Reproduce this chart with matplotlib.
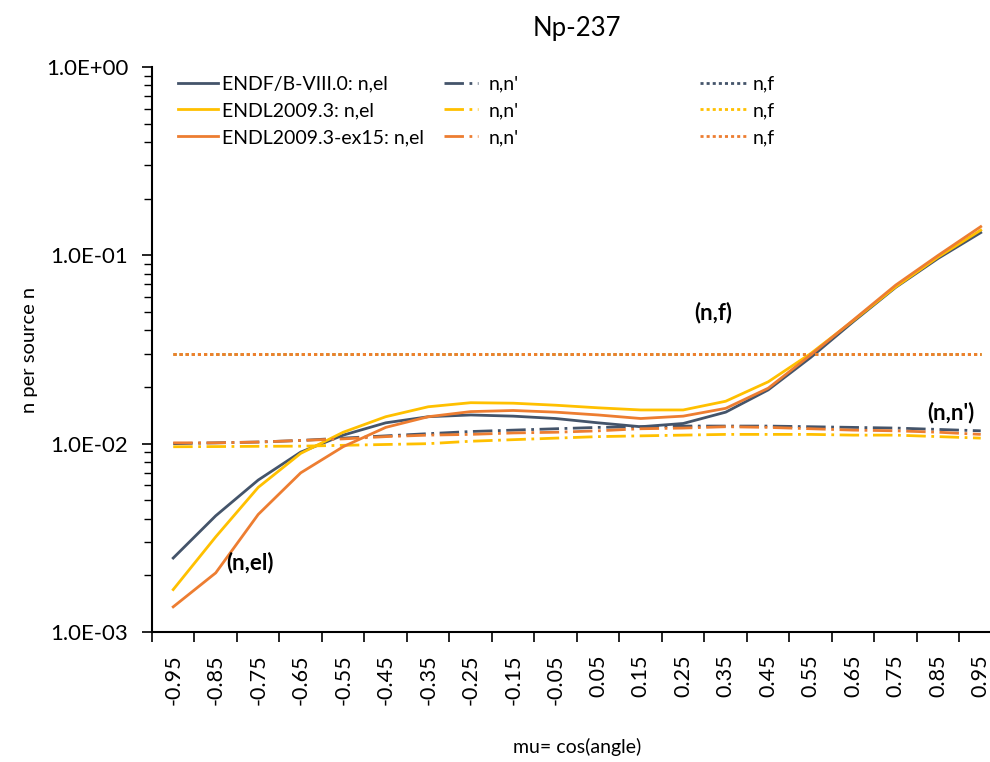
import matplotlib
matplotlib.use("Agg")
import matplotlib.pyplot as plt
from matplotlib.ticker import LogLocator, NullFormatter, FixedLocator
import numpy as np

plt.rcParams['font.family'] = ['Lato', 'DejaVu Sans']

# category axis: mu = cos(angle)
mu_labels = ["-0.95", "-0.85", "-0.75", "-0.65", "-0.55", "-0.45", "-0.35", "-0.25",
             "-0.15", "-0.05", "0.05", "0.15", "0.25", "0.35", "0.45", "0.55",
             "0.65", "0.75", "0.85", "0.95"]

# elastic
endf_el = [2.47e-3, 4.14e-3, 6.41e-3, 9.02e-3, 1.11e-2, 1.29e-2, 1.39e-2, 1.42e-2,
           1.40e-2, 1.36e-2, 1.29e-2, 1.23e-2, 1.28e-2, 1.47e-2, 1.93e-2, 2.87e-2,
           4.44e-2, 6.76e-2, 9.64e-2, 0.132]
endl_el = [1.68e-3, 3.2e-3, 5.86e-3, 8.88e-3, 1.15e-2, 1.39e-2, 1.57e-2, 1.65e-2,
           1.64e-2, 1.60e-2, 1.55e-2, 1.51e-2, 1.51e-2, 1.68e-2, 2.13e-2, 3.01e-2,
           4.5e-2, 6.8e-2, 9.8e-2, 0.136]
ex15_el = [1.36e-3, 2.06e-3, 4.21e-3, 7.0e-3, 9.64e-3, 1.22e-2, 1.39e-2, 1.48e-2,
           1.50e-2, 1.47e-2, 1.42e-2, 1.36e-2, 1.40e-2, 1.54e-2, 1.97e-2, 2.96e-2,
           4.53e-2, 6.95e-2, 0.100, 0.142]

# inelastic
endf_inl = [1.00e-2, 1.01e-2, 1.02e-2, 1.04e-2, 1.07e-2, 1.10e-2, 1.13e-2, 1.16e-2,
            1.18e-2, 1.20e-2, 1.22e-2, 1.23e-2, 1.24e-2, 1.24e-2, 1.24e-2, 1.23e-2,
            1.22e-2, 1.21e-2, 1.19e-2, 1.17e-2]
endl_inl = [9.63e-3, 9.65e-3, 9.68e-3, 9.7e-3, 9.8e-3, 9.9e-3, 1.00e-2, 1.03e-2,
            1.05e-2, 1.07e-2, 1.09e-2, 1.10e-2, 1.11e-2, 1.12e-2, 1.12e-2, 1.12e-2,
            1.11e-2, 1.11e-2, 1.09e-2, 1.07e-2]
ex15_inl = [1.01e-2, 1.01e-2, 1.02e-2, 1.04e-2, 1.06e-2, 1.09e-2, 1.11e-2, 1.12e-2,
            1.14e-2, 1.15e-2, 1.17e-2, 1.20e-2, 1.21e-2, 1.23e-2, 1.22e-2, 1.20e-2,
            1.18e-2, 1.17e-2, 1.15e-2, 1.12e-2]

# fission
endf_f = [2.98e-2] * 20
endl_f = [2.98e-2] * 20
ex15_f = [2.98e-2] * 20

c_endf = '#44546A'
c_endl = '#FFC000'
c_ex15 = '#ED7D31'

fig = plt.figure(figsize=(9.9, 7.62), dpi=100)
ax = fig.add_axes([0.1535, 0.1706, 0.8586, 0.7415])

x = np.arange(len(mu_labels))
lw = 2.0
dashdot = (7, 2, 1, 2)
dot = (1.1, 1.1)

h_el = []
h_inl = []
h_f = []
for col, el, inl, fi, name in [(c_endf, endf_el, endf_inl, endf_f, "ENDF/B-VIII.0: n,el"),
                               (c_endl, endl_el, endl_inl, endl_f, "ENDL2009.3: n,el"),
                               (c_ex15, ex15_el, ex15_inl, ex15_f, "ENDL2009.3-ex15: n,el")]:
    l1, = ax.plot(x, el, color=col, lw=lw, label=name)
    l2, = ax.plot(x, inl, color=col, lw=lw, dashes=dashdot, label="n,n'")
    l3, = ax.plot(x, fi, color=col, lw=lw, dashes=dot, dash_capstyle='butt', label="n,f")
    h_el.append(l1)
    h_inl.append(l2)
    h_f.append(l3)

ax.set_yscale('log')
ax.set_ylim(1e-3, 1e0)
ax.set_xlim(-0.5, len(mu_labels) - 0.5)

ax.yaxis.set_minor_locator(LogLocator(base=10, subs=np.arange(2, 10), numticks=10))
ax.yaxis.set_minor_formatter(NullFormatter())
ax.set_yticks([1e-3, 1e-2, 1e-1, 1e0])
ax.set_yticklabels(["1.0E-03", "1.0E-02", "1.0E-01", "1.0E+00"])
ax.tick_params(axis='y', which='major', length=7, width=1.2, labelsize=16, direction='out', pad=10)
ax.tick_params(axis='y', which='minor', length=6, width=1.0, direction='out')

ax.set_xticks(x)
ax.set_xticklabels(mu_labels, rotation=90)
ax.tick_params(axis='x', which='major', length=0, labelsize=15.5, pad=16)
ax.xaxis.set_minor_locator(FixedLocator(np.arange(-0.5, len(mu_labels), 1.0)))
ax.tick_params(axis='x', which='minor', length=7, width=1.2, direction='out')

for s in ['top', 'right']:
    ax.spines[s].set_visible(False)
for s in ['left', 'bottom']:
    ax.spines[s].set_linewidth(1.5)

ax.set_xlabel("mu= cos(angle)", fontsize=14, labelpad=24)
ax.set_ylabel("n per source n", fontsize=14.5, labelpad=6)
ax.set_title("Np-237", fontsize=18.5, pad=22)

ax.text(12.7, 0.05, "(n,f)", fontsize=16, fontweight='bold', ha='center', va='center')
ax.text(18.3, 0.0147, "(n,n')", fontsize=16, fontweight='bold', ha='center', va='center')
ax.text(1.8, 2.35e-3, "(n,el)", fontsize=16, fontweight='bold', ha='center', va='center')

common = dict(frameon=False, fontsize=14, loc='upper left', borderaxespad=0,
              borderpad=0, labelspacing=0.5)
leg1 = ax.legend(handles=h_el, bbox_to_anchor=(0.031, 0.985),
                 handlelength=2.05, handletextpad=0.2, **common)
ax.add_artist(leg1)
leg2 = ax.legend(handles=h_inl, bbox_to_anchor=(0.343, 0.985),
                 handlelength=1.75, handletextpad=0.55, **common)
ax.add_artist(leg2)
leg3 = ax.legend(handles=h_f, bbox_to_anchor=(0.645, 0.985),
                 handlelength=2.4, handletextpad=0.3, **common)

fig.savefig("out.png", dpi=100)
